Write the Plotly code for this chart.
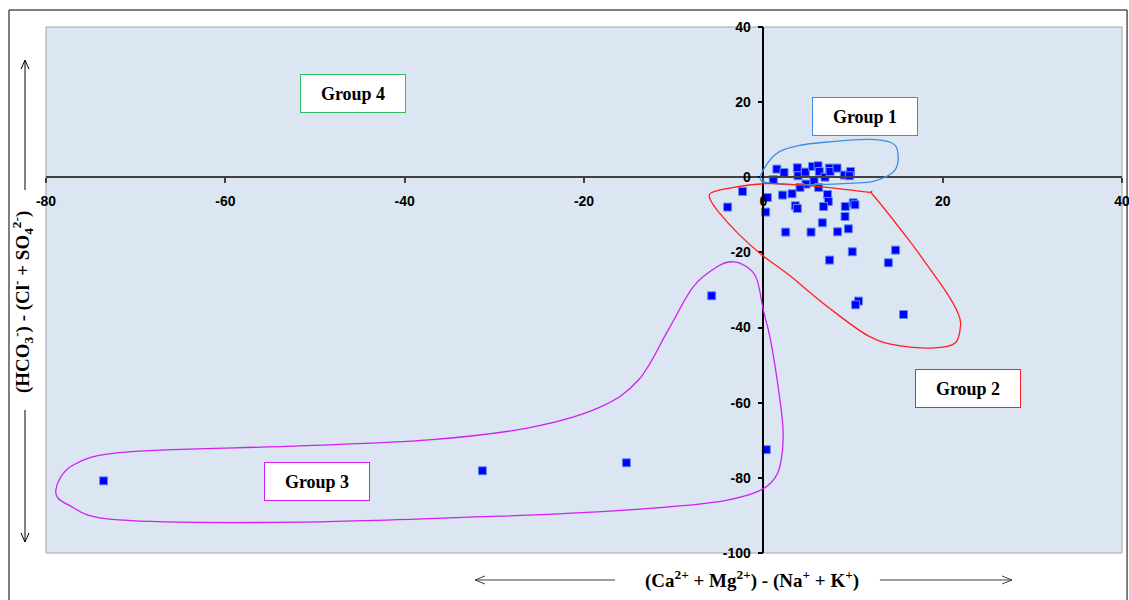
import plotly.graph_objects as go

# ---- data ----
x_vals = [1.51, 2.31, 3.79, 3.87, 4.68, 5.50, 6.10, 6.24, 6.88, 7.36, 7.44, 8.22, 9.03, 9.73, 9.60,
          1.11, 4.76, 5.65, 4.09, 6.17, -2.31, -3.98, 0.45, 0.26, 2.15, 3.20, 7.17, 7.25, 3.57, 3.79,
          6.72, 9.14, 10.03, 10.22, 9.11, 2.49, 5.32, 6.58, 8.28, 9.48, 9.92, 7.39, 14.75, 13.94,
          10.62, 10.29, 15.64, -5.76, 0.33, -15.27, -31.33, -73.58]
y_vals = [2.18, 1.28, 2.53, 0.40, 1.38, 2.87, 3.06, 1.54, 0.05, 2.45, 1.54, 2.45, 0.59, 1.54, 0.40,
          -0.59, -1.81, -1.12, -2.71, -2.71, -3.78, -7.93, -5.38, -9.26, -4.74, -4.39, -4.58, -6.44, -7.59, -8.30,
          -7.77, -7.77, -6.79, -7.32, -10.43, -14.59, -14.59, -12.11, -14.51, -13.71, -19.83, -22.04, -19.38, -22.76,
          -32.95, -33.94, -36.52, -31.54, -72.5, -75.99, -78.12, -80.8]

x_ticks = [-80, -60, -40, -20, 0, 20, 40]
y_ticks = [-100, -80, -60, -40, -20, 0, 20, 40]

group_names = ["Group 1", "Group 2", "Group 3", "Group 4"]
group_x = [11.37, 22.85, -49.74, -45.76]
group_y = [16.1, -56.3, -81.0, 22.2]
group_colors = ["#3C8DE8", "#FF2020", "#D020F0", "#33BB66"]

# outlines of groups (data coordinates)
g1 = [(-0.33, 0.13), (1.3, 6.0), (3.9, 8.4), (7.6, 9.5), (11.7, 10.1), (14.3, 9.2), (15.0, 6.5),
      (14.7, 2.0), (12.8, -0.7), (10.6, -1.5), (3.9, -2.0), (0.6, -1.5)]
g2 = [(-5.8, -4.1), (-3.6, -2.8), (0.2, -1.7), (3.9, -2.0), (11.4, -3.9), (12.3, -4.9), (16.2, -16.6),
      (18.4, -23.8), (20.6, -31.3), (21.7, -36.1), (22.0, -39.3), (21.4, -44.1), (19.0, -45.4),
      (15.1, -44.8), (11.7, -42.2), (7.2, -34.5), (2.8, -25.9), (-0.2, -20.6), (-2.8, -15.0),
      (-5.0, -9.2), (-5.9, -6.0)]
g3 = [(-9.0, -87.4), (-18.0, -89.0), (-29.5, -90.2), (-51.8, -91.8), (-71.9, -91.2), (-77.5, -87.2),
      (-78.9, -83.2), (-76.9, -76.5), (-70.8, -73.1), (-51.8, -71.5), (-37.3, -69.9), (-26.2, -66.7),
      (-18.4, -61.4), (-13.9, -53.9), (-10.6, -40.6), (-7.8, -29.1), (-5.0, -23.6), (-3.3, -22.5),
      (-1.7, -24.1), (-0.7, -27.3), (0.0, -35.3), (0.8, -43.3), (1.7, -56.6), (2.2, -67.2),
      (2.0, -75.2), (1.3, -80.0), (-0.4, -83.4), (-4.0, -85.9)]


def closed_path(pts):
    n = len(pts)
    d = f"M {pts[0][0]},{pts[0][1]}"
    for i in range(n):
        p0 = pts[i - 1]
        p1 = pts[i]
        p2 = pts[(i + 1) % n]
        p3 = pts[(i + 2) % n]
        c1 = (p1[0] + (p2[0] - p0[0]) / 6, p1[1] + (p2[1] - p0[1]) / 6)
        c2 = (p2[0] - (p3[0] - p1[0]) / 6, p2[1] - (p3[1] - p1[1]) / 6)
        d += f" C {c1[0]:.3f},{c1[1]:.3f} {c2[0]:.3f},{c2[1]:.3f} {p2[0]},{p2[1]}"
    return d + " Z"


fig = go.Figure()
fig.add_trace(go.Scatter(
    x=x_vals, y=y_vals, mode="markers",
    marker=dict(symbol="square", size=8, color="#0000FF", line=dict(color="#5B8FE8", width=1)),
    showlegend=False, hoverinfo="x+y"))

shapes = []
for pts, col in [(g1, group_colors[0]), (g2, group_colors[1]), (g3, group_colors[2])]:
    shapes.append(dict(type="path", xref="x", yref="y", path=closed_path(pts),
                       line=dict(color=col, width=1.3), layer="above"))

# plot-area border and outer frame
shapes.append(dict(type="rect", xref="paper", yref="paper", x0=0, x1=1, y0=0, y1=1,
                   line=dict(color="#A6A6A6", width=1), layer="below"))
shapes.append(dict(type="rect", xref="paper", yref="paper", x0=-0.0344, x1=1.0047, y0=-0.2, y1=1.0323,
                   line=dict(color="#000000", width=1)))

# axis title arrows (paper coordinates)
ax_col = "#404040"
shapes += [
    dict(type="path", xref="paper", yref="paper",
         path="M -0.0195,0.690 L -0.0195,0.937 M -0.0232,0.920 L -0.0195,0.937 L -0.0158,0.920",
         line=dict(color="#000000", width=1)),
    dict(type="path", xref="paper", yref="paper",
         path="M -0.0195,0.272 L -0.0195,0.021 M -0.0232,0.038 L -0.0195,0.021 L -0.0158,0.038",
         line=dict(color="#000000", width=1)),
    dict(type="path", xref="paper", yref="paper",
         path="M 0.5288,-0.0513 L 0.3987,-0.0513 M 0.4080,-0.0437 L 0.3987,-0.0513 L 0.4080,-0.0589",
         line=dict(color=ax_col, width=1)),
    dict(type="path", xref="paper", yref="paper",
         path="M 0.775,-0.0513 L 0.8978,-0.0513 M 0.8885,-0.0437 L 0.8978,-0.0513 L 0.8885,-0.0589",
         line=dict(color=ax_col, width=1)),
]

annotations = []
for name, gx, gy, col in zip(group_names, group_x, group_y, group_colors):
    annotations.append(dict(x=gx, y=gy, xref="x", yref="y", text=f"<b>{name}</b>", showarrow=False,
                            xanchor="center", yanchor="middle",
                            font=dict(family="Liberation Serif", size=18, color="#000000"),
                            bgcolor="#FFFFFF", bordercolor=col, borderwidth=1, borderpad=2,
                            width=100, height=33))

title_font = dict(family="Liberation Serif", size=19, color="#000000")
annotations.append(dict(x=-0.0223, y=0.477, xref="paper", yref="paper", textangle=-90,
                        xanchor="center", yanchor="middle",
                        text="<b>(HCO<sub>3</sub><sup>-</sup>) - (Cl<sup>-</sup> + SO<sub>4</sub><sup>2-</sup>)</b>",
                        showarrow=False, font=title_font))
annotations.append(dict(x=0.656, y=-0.0513, xref="paper", yref="paper",
                        xanchor="center", yanchor="middle",
                        text="<b>(Ca<sup>2+</sup> + Mg<sup>2+</sup>) - (Na<sup>+</sup> + K<sup>+</sup>)</b>",
                        showarrow=False, font=title_font))

tick_font = dict(family="Liberation Sans", size=14, color="#000000")
fig.update_layout(
    width=1129, height=600,
    margin=dict(l=46, r=7, t=27, b=47, autoexpand=False),
    paper_bgcolor="#FFFFFF",
    plot_bgcolor="#DCE6F2",
    xaxis=dict(range=[-80, 40], tickvals=x_ticks, ticktext=[f"<b>{v}</b>" for v in x_ticks],
               showgrid=False, zeroline=False, showline=True, linecolor="#404040", linewidth=2,
               ticks="outside", ticklen=5, tickcolor="#404040", tickwidth=1.5,
               anchor="free", position=100 / 140, tickfont=tick_font, ticklabelstandoff=6,
               ticklabeloverflow="allow", automargin=False),
    yaxis=dict(range=[-100, 40], tickvals=y_ticks, ticktext=[f"<b>{v}</b>" for v in y_ticks],
               showgrid=False, zeroline=False, showline=True, linecolor="#000000", linewidth=1.5,
               ticks="outside", ticklen=5, tickcolor="#000000", tickwidth=1.5,
               anchor="free", position=80 / 120, tickfont=tick_font, ticklabelstandoff=4,
               ticklabeloverflow="allow", automargin=False),
    shapes=shapes,
    annotations=annotations,
    showlegend=False,
)

fig.write_html("out.html", config={"displayModeBar": False},
               post_script="document.body.style.margin='0';document.body.style.overflow='hidden';")
